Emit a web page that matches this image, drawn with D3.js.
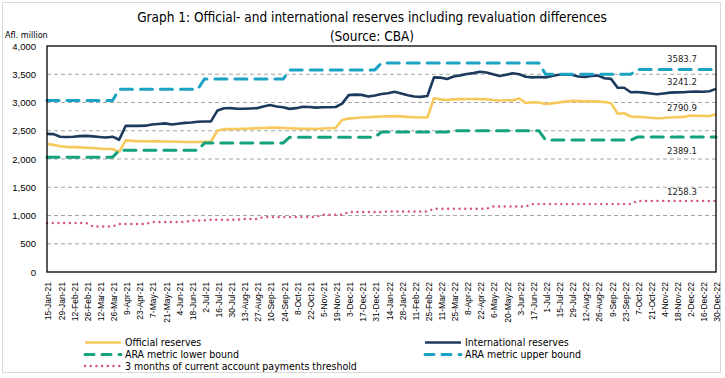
<!DOCTYPE html>
<html><head><meta charset="utf-8">
<script src="https://cdn.jsdelivr.net/npm/d3@7"></script>
<style>
body{margin:0;background:#fff;}
svg{display:block;font-family:"Liberation Sans Narrow","DejaVu Sans Condensed","Roboto",sans-serif;}
</style></head><body><svg id="c" width="725" height="378"></svg>
<script>
// Weekly observations (Fridays) starting 15-Jan-21, ending 30-Dec-22
const startDate = new Date(2021, 0, 15);
const nWeeks = 103;

const official = [2265,2250,2225,2215,2210,2205,2200,2195,2185,2180,2178,2125,2330,2320,2315,2315,2312,2312,2310,2310,2305,2300,2300,2302,2305,2310,
2505,2528,2530,2530,2535,2540,2545,2550,2555,2555,2550,2545,2540,2535,2535,2530,2540,2545,2550,2690,2715,2725,2735,2740,2745,2752,2755,2758,2755,2745,2740,2735,2735,
3076,3055,3045,3055,3060,3062,3062,3060,3058,3045,3035,3040,3038,3070,2990,3005,3000,2972,2985,3000,3015,3028,3025,3020,3020,3015,3010,2988,
2800,2810,2752,2745,2740,2730,2722,2725,2735,2740,2745,2768,2765,2763,2762,2791];

const international = [2445,2440,2395,2390,2395,2405,2410,2400,2390,2380,2395,2340,2587,2587,2587,2590,2610,2620,2630,2610,2625,2640,2645,2660,2663,2665,
2860,2899,2900,2890,2890,2895,2900,2930,2955,2930,2915,2887,2900,2925,2920,2910,2915,2915,2920,2980,3130,3140,3135,3105,3125,3150,3165,3190,3160,3130,3105,3100,3115,
3445,3440,3417,3460,3480,3505,3520,3545,3530,3500,3470,3490,3518,3500,3455,3445,3450,3445,3470,3490,3495,3490,3460,3450,3470,3478,3430,3418,
3260,3262,3182,3185,3175,3160,3147,3160,3175,3180,3182,3190,3195,3190,3200,3241];

const lowerBound = [2030,2030,2030,2030,2030,2030,2030,2030,2030,2030,2030,
2155,2155,2155,2155,2155,2155,2155,2155,2155,2155,2155,2155,2155,
2281,2281,2281,2281,2281,2281,2281,2281,2281,2281,2281,2281,2281,
2387,2387,2387,2387,2387,2387,2387,2387,2387,2387,2387,2387,2387,2387,
2478,2478,2478,2478,2478,2478,2478,2478,2478,2478,2478,
2498,2498,2498,2498,2498,2498,2498,2498,2498,2498,2498,2498,2498,2498,
2336,2336,2336,2336,2336,2336,2336,2336,2336,2336,2336,2336,2336,2336,
2389.1,2389.1,2389.1,2389.1,2389.1,2389.1,2389.1,2389.1,2389.1,2389.1,2389.1,2389.1,2389.1];

const upperBound = [3034,3034,3034,3034,3034,3034,3034,3034,3034,3034,3034,
3235,3235,3235,3235,3235,3235,3235,3235,3235,3235,3235,3235,3235,
3415,3415,3415,3415,3415,3415,3415,3415,3415,3415,3415,3415,3415,
3577,3577,3577,3577,3577,3577,3577,3577,3577,3577,3577,3577,3577,3577,
3700,3700,3700,3700,3700,3700,3700,3700,3700,3700,3700,3700,3700,3700,3700,3700,3700,3700,3700,3700,3700,3700,3700,3700,3700,
3500,3500,3500,3500,3500,3500,3500,3500,3500,3500,3500,3500,3500,3500,
3583.7,3583.7,3583.7,3583.7,3583.7,3583.7,3583.7,3583.7,3583.7,3583.7,3583.7,3583.7,3583.7];

const threshold = [866,866,866,866,866,866,866,806,806,806,806,
849,849,849,849,849,884,884,884,884,884,884,912,912,912,925,925,925,925,925,937,937,937,
972,972,972,972,972,972,972,972,972,1013,1013,1013,1013,1061,1061,1061,1061,1061,1061,
1071,1071,1071,1071,1071,1071,1071,1119,1119,1119,1119,1119,1119,1119,1119,1119,1160,1160,1160,1160,1160,1160,
1202,1202,1202,1202,1202,1202,1202,1202,1202,1202,1202,1202,1202,1202,1202,1202,
1258.3,1258.3,1258.3,1258.3,1258.3,1258.3,1258.3,1258.3,1258.3,1258.3,1258.3,1258.3,1258.3];

const yTicks = [0,500,1000,1500,2000,2500,3000,3500,4000];
const endLabels = ["3583.7","3241.2","2790.9","2389.1","1258.3"];
const titleLines = ["Graph 1: Official- and international reserves including revaluation differences","(Source: CBA)"];
const yUnit = "Afl. million";

const dates = d3.range(nWeeks).map(i => d3.timeDay.offset(startDate, 7*i));
const tickDates = dates.filter((d,i) => i % 2 === 0);

const series = [
  {name:"Official reserves", values: official, color:"#f7c95c", width:2.6, dash:null, cap:"butt"},
  {name:"International reserves", values: international, color:"#1c3a5e", width:2.6, dash:null, cap:"butt"},
  {name:"ARA metric lower bound", values: lowerBound, color:"#15a27f", width:3, dash:"12,8", cap:"round"},
  {name:"ARA metric upper bound", values: upperBound, color:"#1ba3c4", width:3, dash:"12,8", cap:"round"},
  {name:"3 months of current account payments threshold", values: threshold, color:"#d4577c", width:2.4, dash:"0.1,5.6", cap:"round"}
];

const svg = d3.select("#c");
const M = {l:47, r:716, t:46, b:272};

// outer frame
svg.append("rect").attr("x",2.5).attr("y",2.5).attr("width",718).attr("height",370)
  .attr("fill","#fff").attr("stroke","#d9d9d9").attr("stroke-width",1);

const x = d3.scaleTime().domain([dates[0], dates[nWeeks-1]]).range([M.l, M.r]);
const y = d3.scaleLinear().domain([0,4000]).range([M.b, M.t]);

// gridlines
svg.append("g").selectAll("line").data(yTicks.filter(v => v>0 && v<4000)).join("line")
  .attr("x1",M.l).attr("x2",M.r).attr("y1",d=>y(d)).attr("y2",d=>y(d))
  .attr("stroke","#a6a6a6").attr("stroke-width",1).attr("stroke-dasharray","4,3");

// y axis
const ya = svg.append("g").attr("transform",`translate(${M.l},0)`)
  .call(d3.axisLeft(y).tickValues(yTicks).tickFormat(d3.format(",")).tickSize(0).tickPadding(11));
ya.select(".domain").remove();
ya.selectAll("text").attr("font-size",9.5).attr("fill","#000").attr("font-family","inherit");

// x axis
const xa = svg.append("g").attr("transform",`translate(0,${M.b})`)
  .call(d3.axisBottom(x).tickValues(tickDates).tickFormat(d3.timeFormat("%-d-%b-%y")).tickSize(0));
xa.select(".domain").remove();
xa.selectAll("text").attr("font-size",8.5).attr("fill","#000").attr("font-family","inherit")
  .attr("text-anchor","end").attr("transform","rotate(-90)")
  .attr("x",-10).attr("y",1).attr("dy","0.35em");

// series lines
const line = vals => d3.line().x((d,i)=>x(dates[i])).y(d=>y(d))(vals);
series.forEach(s => {
  svg.append("path").attr("d", line(s.values)).attr("fill","none")
    .attr("stroke", s.color).attr("stroke-width", s.width)
    .attr("stroke-dasharray", s.dash).attr("stroke-linecap", s.cap)
    .attr("stroke-linejoin","round");
});

// plot border
svg.append("rect").attr("x",M.l).attr("y",M.t).attr("width",M.r-M.l).attr("height",M.b-M.t)
  .attr("fill","none").attr("stroke","#000").attr("stroke-width",1.3);

// end labels
const endSeries = [upperBound, international, official, lowerBound, threshold];
const endOffsets = [-10.5, -7.5, -6.5, 13.5, -9.5];
endLabels.forEach((t,k) => {
  const v = endSeries[k][nWeeks-1];
  svg.append("text").attr("x", x(dates[nWeeks-1]) - 34).attr("y", y(v) + endOffsets[k])
    .attr("dy","0.35em").attr("text-anchor","middle").attr("font-size",9.5).attr("fill","#222").text(t);
});

// title
svg.append("text").attr("x",372).attr("y",22).attr("text-anchor","middle").attr("font-size",13.5).attr("fill","#000").text(titleLines[0]);
svg.append("text").attr("x",372).attr("y",41).attr("text-anchor","middle").attr("font-size",13.5).attr("fill","#000").text(titleLines[1]);
svg.append("text").attr("x",5).attr("y",38).attr("font-size",9).attr("fill","#000").text(yUnit);

// legend
const legPos = [[85,342.5],[425,342.5],[85,354.5],[425,354.5],[85,366]];
series.forEach((s,k) => {
  const [lx,ly] = legPos[k];
  svg.append("line").attr("x1",lx).attr("x2",lx+36).attr("y1",ly).attr("y2",ly)
    .attr("stroke",s.color).attr("stroke-width",s.width).attr("stroke-dasharray",s.dash ? (s.dash==="12,8" ? "9,8" : s.dash) : null)
    .attr("stroke-linecap",s.cap);
  svg.append("text").attr("x",lx+40).attr("y",ly).attr("dy","0.35em").attr("font-size",10.5).attr("fill","#000").text(s.name);
});
</script></body></html>
